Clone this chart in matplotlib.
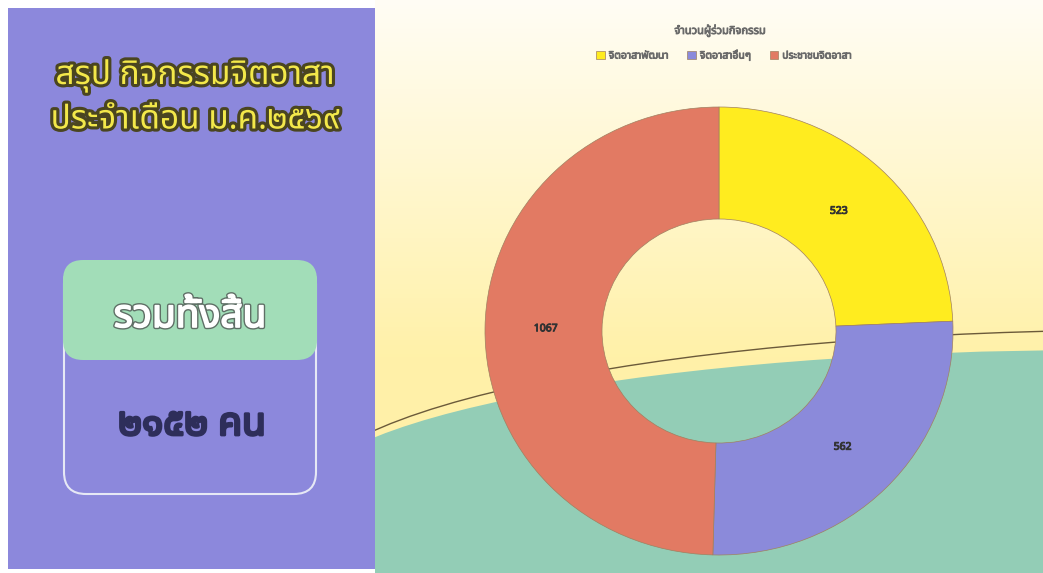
import numpy as np
import matplotlib
matplotlib.use("Agg")
import matplotlib.pyplot as plt
from matplotlib import font_manager
from matplotlib.ft2font import FT2Font
from matplotlib.patches import FancyBboxPatch, Ellipse, Rectangle, Arc
import matplotlib.patheffects as pe

# ---------------- data ----------------
chart_title = "จำนวนผู้ร่วมกิจกรรม"
categories = ["จิตอาสาพัฒนา", "จิตอาสาอื่นๆ", "ประชาชนจิตอาสา"]
values = [523, 562, 1067]
colors = ["#FFEC1F", "#8B8ADA", "#E27A63"]
panel_title = ["สรุป กิจกรรมจิตอาสา", "ประจำเดือน ม.ค.๒๕๖๙"]
total_label = "รวมทั้งสิ้น"
total_value = "๒๑๕๒ คน"

# ------------- find a Thai capable font -------------
thai_font = None
preferred = ["Noto Sans Thai", "Noto Sans Thai UI", "Noto Serif Thai", "Loma", "Garuda",
             "Tlwg Typo", "Sarabun", "Kinnari", "Waree", "Umpush", "Norasi", "Sawasdee",
             "Purisa", "Laksaman", "FreeSans", "Arial Unicode MS", "Tahoma"]
found = {}
for f in font_manager.fontManager.ttflist:
    try:
        cm = FT2Font(f.fname).get_charmap()
        if 0x0E01 in cm and 0x0E52 in cm:
            found.setdefault(f.name, f)
    except Exception:
        pass
for p in preferred:
    if p in found:
        thai_font = p
        break
if thai_font is None and found:
    thai_font = sorted(found)[0]
families = ([thai_font] if thai_font else []) + ["DejaVu Sans"]
plt.rcParams["font.family"] = families


def bold(color, w=1.0):
    return [pe.withStroke(linewidth=w, foreground=color)]


W, H = 1043, 573
fig = plt.figure(figsize=(W / 100, H / 100), dpi=100)
fig.patch.set_facecolor("white")

# background axes in pixel coordinates
bg = fig.add_axes([0, 0, 1, 1])
bg.set_xlim(0, W)
bg.set_ylim(H, 0)
bg.axis("off")

# right panel gradient (cream -> yellow)
grad = np.linspace(0, 1, 256).reshape(-1, 1)
top = np.array([1.0, 0.992, 0.96])
mid = np.array([1.0, 0.945, 0.66])
g = np.clip(grad * 1.6, 0, 1)
img = top[None, None, :] * (1 - g[..., None]) + mid[None, None, :] * g[..., None]
bg.imshow(img, extent=[375, W, 573, 0], aspect="auto", zorder=0)

# green hill and thin brown curve
bg.add_patch(Ellipse((1100, 350 + 151), 1600, 302, facecolor="#93CDB6", edgecolor="none", zorder=1))
bg.add_patch(Rectangle((375, 495), W - 375, 85, facecolor="#93CDB6", edgecolor="none", zorder=1))
bg.add_patch(Arc((1150, 330 + 170), 1700, 340, theta1=180, theta2=360,
                 edgecolor="#6b5a3a", lw=1.0, zorder=2))

# left purple panel
bg.add_patch(Rectangle((8, 8), 367, 561, facecolor="#8C88DC", edgecolor="none", zorder=3))

# panel title
title_fx = [pe.withStroke(linewidth=4.5, foreground="#4a4520")]
bg.text(195, 76, panel_title[0], ha="center", va="center", fontsize=24,
        color="#F3E84A", path_effects=title_fx, zorder=5)
bg.text(195, 120, panel_title[1], ha="center", va="center", fontsize=24,
        color="#F3E84A", path_effects=title_fx, zorder=5)

# total box
bg.add_patch(FancyBboxPatch((64, 262), 252, 232, boxstyle="round,pad=0,rounding_size=22",
                            facecolor="#8C88DC", edgecolor="#E6E8F5", lw=1.5, zorder=4))
bg.add_patch(FancyBboxPatch((63, 260), 254, 100, boxstyle="round,pad=0,rounding_size=20",
                            facecolor="#A2DDB8", edgecolor="none", zorder=4))
bg.text(190, 317, total_label, ha="center", va="center", fontsize=28, color="white",
        path_effects=[pe.Stroke(linewidth=3.2, foreground="#5f6f66"),
                      pe.Stroke(linewidth=1.2, foreground="white"), pe.Normal()], zorder=5)
bg.text(192, 425, total_value, ha="center", va="center", fontsize=28,
        color="#2E2E5A", path_effects=bold("#2E2E5A", 2.0), zorder=5)

# chart title
bg.text(720, 31, chart_title, ha="center", va="center", fontsize=8,
        color="#6a6a6a", path_effects=bold("#6a6a6a", 0.6), zorder=5)

# donut chart
cx, cy, rx, ry = 719, 331, 234, 224
ax = fig.add_axes([(cx - rx) / W, (H - (cy + ry)) / H, 2 * rx / W, 2 * ry / H])
ax.patch.set_alpha(0)
wedges, texts = ax.pie(values, colors=colors, startangle=90, counterclock=False,
                       labels=[str(v) for v in values], labeldistance=0.74,
                       wedgeprops=dict(width=0.5, edgecolor="#a08060", linewidth=0.5),
                       textprops=dict(fontsize=7.5, color="#333333",
                                      ha="center", va="center"))
for t in texts:
    t.set_path_effects(bold("#333333", 0.7))
ax.set_aspect("auto")
ax.set_xlim(-1, 1)
ax.set_ylim(-1, 1)
ax.axis("off")

leg = fig.legend(wedges, categories, loc="center", bbox_to_anchor=(724 / W, 1 - 56 / H),
                 ncol=3, frameon=False, fontsize=7.5, handlelength=0.8, handleheight=0.8,
                 columnspacing=1.8, handletextpad=0.4)
for t in leg.get_texts():
    t.set_color("#6a6a6a")
    t.set_path_effects(bold("#6a6a6a", 0.6))

fig.savefig("out.png", dpi=100, facecolor=fig.get_facecolor())
